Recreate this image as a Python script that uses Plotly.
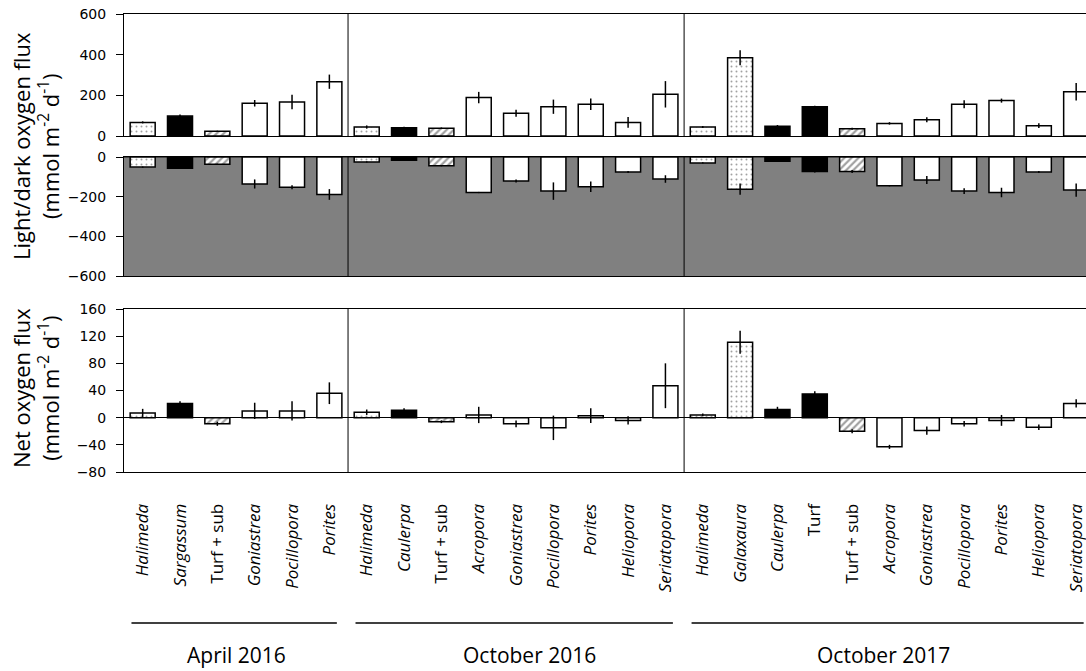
import plotly.graph_objects as go

# ---------------- data ----------------
groups = ["April 2016", "October 2016", "October 2017"]
group_sizes = [6, 9, 11]

taxa = [
    "Halimeda", "Sargassum", "Turf + sub", "Goniastrea", "Pocillopora", "Porites",
    "Halimeda", "Caulerpa", "Turf + sub", "Acropora", "Goniastrea", "Pocillopora",
    "Porites", "Heliopora", "Seriatopora",
    "Halimeda", "Galaxaura", "Caulerpa", "Turf", "Turf + sub", "Acropora",
    "Goniastrea", "Pocillopora", "Porites", "Heliopora", "Seriatopora",
]
italic = [
    True, True, False, True, True, True,
    True, True, False, True, True, True, True, True, True,
    True, True, True, False, False, True, True, True, True, True, True,
]
kind = [
    "dots", "black", "hatch", "white", "white", "white",
    "dots", "black", "hatch", "white", "white", "white", "white", "white", "white",
    "dots", "dots", "black", "black", "hatch", "white", "white", "white", "white", "white", "white",
]

light_mean = [67, 98, 23, 161, 167, 267,
              44, 41, 38, 189, 112, 144, 156, 67, 205,
              44, 385, 48, 144, 36, 62, 80, 156, 174, 51, 218]
light_err = [5, 8, 3, 16, 36, 35,
             8, 5, 4, 28, 17, 35, 28, 26, 65,
             5, 37, 6, 5, 5, 6, 12, 20, 10, 12, 43]

dark_mean = [-51, -57, -37, -136, -152, -189,
             -25, -17, -44, -179, -121, -172, -150, -76, -111,
             -30, -162, -22, -73, -73, -145, -116, -172, -179, -76, -167]
dark_err = [3, 3, 3, 23, 10, 27,
            3, 3, 3, 3, 8, 44, 27, 5, 19,
            3, 28, 3, 5, 8, 3, 20, 15, 24, 5, 34]

net_mean = [7, 21, -9, 10, 10, 36,
            8, 11, -6, 4, -9, -15, 3, -4, 47,
            4, 111, 12, 35, -20, -43, -19, -9, -4, -14, 21]
net_err = [6, 3, 3, 12, 14, 16,
           4, 3, 2, 12, 5, 18, 11, 6, 33,
           2, 17, 4, 4, 3, 3, 6, 4, 8, 4, 6]

light_ticks = [0, 200, 400, 600]
dark_ticks = [0, -200, -400, -600]
net_ticks = [-80, -40, 0, 40, 80, 120, 160]

# ---------------- styling helpers ----------------
W, H = 1086, 671
ML = 124
FONT = "Open Sans, Noto Sans, DejaVu Sans, sans-serif"
TICKFONT = "DejaVu Sans, Open Sans, sans-serif"

x = list(range(len(taxa)))
ticktext = [f"<i>{t}</i>" if it else t for t, it in zip(taxa, italic)]

style = {
    "dots": dict(color="white", shape=".", fg="black", bg="white", sol=0.12),
    "black": dict(color="black", shape="", fg="black", bg="black", sol=0.3),
    "hatch": dict(color="white", shape="/", fg="#222222", bg="white", sol=0.45),
    "white": dict(color="white", shape="", fg="white", bg="white", sol=0.3),
}
colors = [style[k]["color"] for k in kind]
shapes_pat = [style[k]["shape"] for k in kind]
fgs = [style[k]["fg"] for k in kind]
bgs = [style[k]["bg"] for k in kind]
sols = [style[k]["sol"] for k in kind]


def bar_trace(vals, errs, xa, ya):
    return go.Bar(
        x=x, y=vals, xaxis=xa, yaxis=ya, width=0.67,
        marker=dict(
            color=colors,
            line=dict(color="black", width=1.5),
            pattern=dict(shape=shapes_pat, fgcolor=fgs, bgcolor=bgs,
                         size=5, solidity=sols, fillmode="overlay"),
        ),
        error_y=dict(type="data", array=errs, visible=True,
                     color="black", thickness=1.5, width=0),
        showlegend=False, hoverinfo="skip",
    )


fig = go.Figure()
fig.add_trace(bar_trace(light_mean, light_err, "x", "y"))
fig.add_trace(bar_trace(dark_mean, dark_err, "x2", "y2"))
fig.add_trace(bar_trace(net_mean, net_err, "x3", "y3"))


def py(pix):
    """pixel row -> paper fraction (margins t=b=0)"""
    return 1 - pix / H


xrange_ = [-0.5, -0.5 + (W - ML) / 37.34]

xcommon = dict(range=xrange_, showline=True, mirror=True, linecolor="black",
               linewidth=1, showgrid=False, zeroline=False, ticks="",
               showticklabels=False, automargin=False, fixedrange=True)
ycommon = dict(showline=True, linecolor="black", linewidth=1, ticks="outside",
               ticklen=7, tickcolor="black", showgrid=False, automargin=False,
               tickfont=dict(family=TICKFONT, size=14, color="black"),
               ticklabelstandoff=7, fixedrange=True)

fig.update_layout(
    width=W, height=H,
    margin=dict(l=ML, r=0, t=0, b=0, autoexpand=False),
    paper_bgcolor="white", plot_bgcolor="white",
    font=dict(family=FONT, color="black"),
    template="none",
    xaxis=dict(**xcommon, domain=[0, 1], anchor="y"),
    xaxis2=dict(**xcommon, domain=[0, 1], anchor="y2"),
    xaxis3=dict(**{**xcommon, "showticklabels": True}, domain=[0, 1], anchor="y3",
                tickmode="array", tickvals=x, ticktext=ticktext, tickangle=-90,
                tickfont=dict(family=FONT, size=17, color="black"),
                ticklabelstandoff=24, ticklabeloverflow="allow"),
    yaxis=dict(**ycommon, domain=[py(136), py(14)], range=[0, 600],
               tickvals=light_ticks, anchor="x"),
    yaxis2=dict(**ycommon, domain=[py(276), py(157)], range=[-600, 0],
                tickvals=dark_ticks, anchor="x2"),
    yaxis3=dict(**ycommon, domain=[py(472), py(309)], range=[-80, 160],
                tickvals=net_ticks, anchor="x3", zeroline=True,
                zerolinecolor="black", zerolinewidth=1),
)

shapes = []
# grey background for the dark-flux panel
shapes.append(dict(type="rect", xref="x2 domain", yref="y2 domain",
                   x0=0, x1=1, y0=0, y1=1, fillcolor="#808080",
                   line=dict(width=0), layer="below"))

# separators between sampling periods + group underlines
starts = []
s = 0
for n in group_sizes:
    starts.append(s)
    s += n
for gi, (st, n) in enumerate(zip(starts, group_sizes)):
    end = st + n - 1
    if gi < len(group_sizes) - 1:
        for xa, ya in (("x", "y"), ("x2", "y2"), ("x3", "y3")):
            shapes.append(dict(type="line", xref=xa, yref=f"{ya} domain",
                               x0=end + 0.5, x1=end + 0.5, y0=0, y1=1,
                               line=dict(color="black", width=1)))
    shapes.append(dict(type="line", xref="x3", yref="paper",
                       x0=st - 0.3, x1=end + 0.2, y0=py(623), y1=py(623),
                       line=dict(color="black", width=1.3)))
fig.update_layout(shapes=shapes)

annotations = []
label_shift = [0, 13, -6]
for gi, (st, n) in enumerate(zip(starts, group_sizes)):
    annotations.append(dict(
        text=groups[gi], xref="x3", yref="paper", x=st + (n - 1) / 2,
        y=py(655), xanchor="center", yanchor="middle", showarrow=False,
        xshift=label_shift[gi],
        font=dict(family=FONT, size=21, color="black")))

annotations.append(dict(
    text="Light/dark oxygen flux<br>(mmol m<sup>-2</sup> d<sup>-1</sup>)",
    xref="paper", yref="paper", x=(35 - ML) / (W - ML), y=py(146),
    xanchor="center", yanchor="middle", textangle=-90, showarrow=False,
    font=dict(family=FONT, size=22, color="black")))
annotations.append(dict(
    text="Net oxygen flux<br>(mmol m<sup>-2</sup> d<sup>-1</sup>)",
    xref="paper", yref="paper", x=(35 - ML) / (W - ML), y=py(388),
    xanchor="center", yanchor="middle", textangle=-90, showarrow=False,
    font=dict(family=FONT, size=22, color="black")))
fig.update_layout(annotations=annotations)

fig.write_html(
    "out.html",
    config={"displayModeBar": False},
    post_script="document.body.style.margin='0px';document.body.style.overflow='hidden';",
)
